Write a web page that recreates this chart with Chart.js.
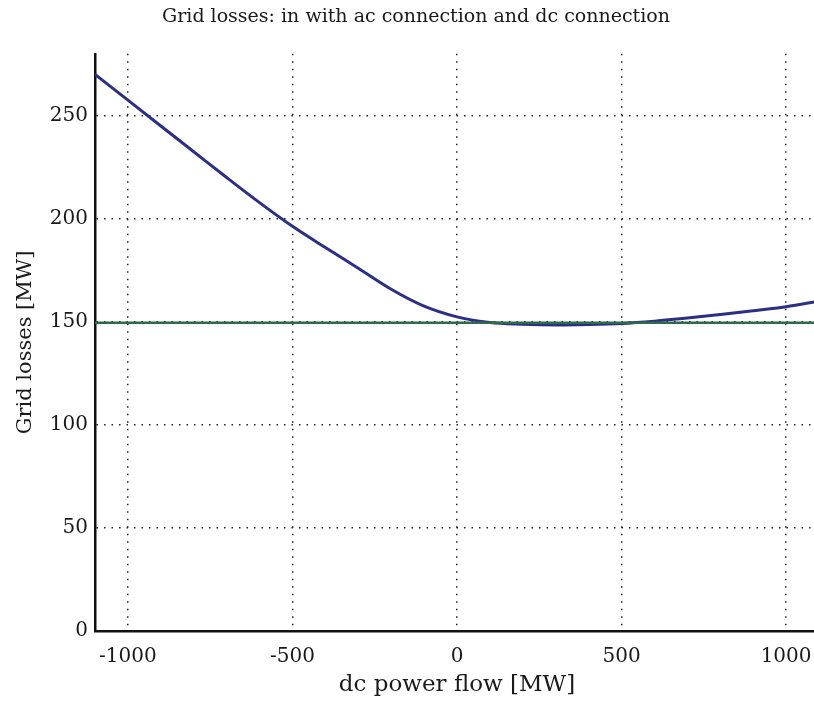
<!DOCTYPE html>
<html>
<head>
<meta charset="utf-8">
<script src="https://cdn.jsdelivr.net/npm/chart.js@4/dist/chart.umd.min.js"></script>
<style>
  html, body { margin: 0; padding: 0; background: #fff; overflow: hidden; }
  canvas { display: block; }
</style>
</head>
<body>
<canvas id="lossChart" width="820" height="703"></canvas>
<script>
// dc power flow [MW]
var flow = [-1100, -1000, -900, -800, -700, -600, -500, -400, -300, -200, -100,
            0, 100, 200, 300, 400, 500, 600, 700, 800, 900, 1000, 1100];
// grid losses with dc connection [MW]
var dcLosses = [270, 257.5, 245, 232.5, 220, 207.8, 196.3, 186, 176, 165.8, 157.6,
                152.4, 149.6, 148.8, 148.5, 148.7, 149.2, 150.3, 151.8, 153.5, 155.3, 157.3, 160];
// grid losses with ac connection [MW] (flat)
var acFlow = [-1100, 1100];
var acLosses = [149.5, 149.5];

var xTicks = [-1000, -500, 0, 500, 1000];
var yTicks = [0, 50, 100, 150, 200, 250];

var serif = '"DejaVu Serif", "Liberation Serif", serif';

var data = {
  datasets: [
    {
      label: 'ac connection',
      data: acFlow.map(function (x, i) { return { x: x, y: acLosses[i] }; }),
      borderColor: '#2f6a4c',
      borderWidth: 2.5,
      pointRadius: 0,
      order: 0
    },
    {
      label: 'dc connection',
      data: flow.map(function (x, i) { return { x: x, y: dcLosses[i] }; }),
      borderColor: '#2b2f86',
      borderWidth: 3,
      pointRadius: 0,
      cubicInterpolationMode: 'monotone',
      order: 1
    }
  ]
};

var options = {
  responsive: false,
  animation: false,
  layout: { padding: { left: 13, right: 1, top: 0, bottom: 0 } },
  plugins: {
    legend: { display: false },
    tooltip: { enabled: false },
    title: {
      display: true,
      text: 'Grid losses: in with ac connection and dc connection',
      color: '#1a1a1a',
      font: { family: serif, size: 19, weight: 'normal' },
      padding: { top: 6, bottom: 25 }
    }
  },
  scales: {
    x: {
      type: 'linear',
      min: -1100,
      max: 1100,
      afterBuildTicks: function (scale) {
        scale.ticks = xTicks.map(function (v) { return { value: v }; });
      },
      afterFit: function (scale) {
        scale.height = 72;
        scale.paddingLeft = 0;
        scale.paddingRight = 0;
      },
      grid: {
        drawTicks: false,
        color: '#222',
        lineWidth: 1.5
      },
      border: { display: true, color: '#111', width: 2.5, dash: [1.5, 6] },
      ticks: {
        padding: 14,
        color: '#1a1a1a',
        maxRotation: 0,
        font: { family: serif, size: 20 },
        callback: function (v) { return String(v); }
      },
      title: {
        display: true,
        text: 'dc power flow [MW]',
        color: '#1a1a1a',
        font: { family: serif, size: 23 },
        padding: { top: 0, bottom: 4 }
      }
    },
    y: {
      type: 'linear',
      min: 0,
      max: 280,
      afterBuildTicks: function (scale) {
        scale.ticks = yTicks.map(function (v) { return { value: v }; });
      },
      afterFit: function (scale) {
        scale.width = 82;
        scale.paddingTop = 0;
        scale.paddingBottom = 0;
      },
      grid: {
        drawTicks: false,
        color: function (ctx) { return ctx.tick && ctx.tick.value === 0 ? 'rgba(0,0,0,0)' : '#222'; },
        lineWidth: 1.5
      },
      border: { display: true, color: '#111', width: 2.5, dash: [1.5, 6] },
      ticks: {
        padding: 7,
        color: '#1a1a1a',
        font: { family: serif, size: 20 },
        callback: function (v) { return String(v); }
      },
      title: {
        display: true,
        text: 'Grid losses [MW]',
        color: '#1a1a1a',
        font: { family: serif, size: 21 },
        padding: 0
      }
    }
  }
};

const ctx = document.getElementById('lossChart').getContext('2d');
const lossChart = new Chart(ctx, {
  type: 'line',
  data: data,
  options: options
});
</script>
</body>
</html>
